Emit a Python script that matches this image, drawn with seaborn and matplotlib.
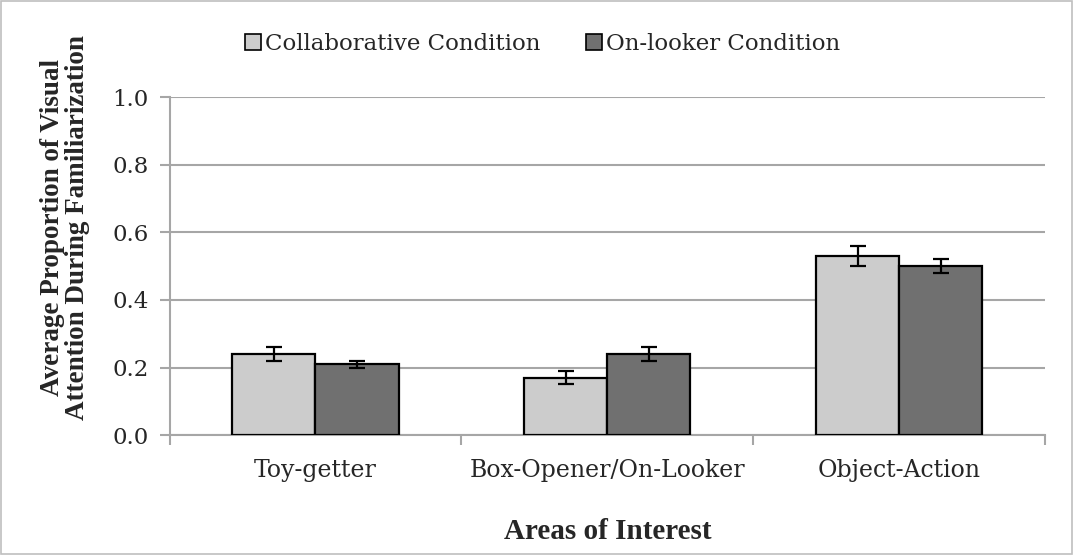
import seaborn as sns
import matplotlib.pyplot as plt
import pandas as pd
from matplotlib.patches import Rectangle

# data
areas = ["Toy-getter", "Box-Opener/On-Looker", "Object-Action"]
conditions = ["Collaborative Condition", "On-looker Condition"]
collab_vals = [0.24, 0.17, 0.53]
collab_err = [0.02, 0.02, 0.03]
onlooker_vals = [0.21, 0.24, 0.50]
onlooker_err = [0.01, 0.02, 0.02]
colors = ["#CCCCCC", "#707070"]

df = pd.DataFrame({
    "area": areas * 2,
    "condition": [conditions[0]] * 3 + [conditions[1]] * 3,
    "value": collab_vals + onlooker_vals,
    "err": collab_err + onlooker_err,
})

sns.set_style("white")
plt.rcParams["font.family"] = ["DejaVu Serif", "Liberation Serif"]
bold_font = ["Liberation Serif", "DejaVu Serif"]

fig = plt.figure(figsize=(10.73, 5.55), dpi=100)
ax = fig.add_axes([0.158, 0.216, 0.816, 0.609])

sns.barplot(data=df, x="area", y="value", hue="condition", palette=colors,
            order=areas, hue_order=conditions, width=0.57, errorbar=None,
            edgecolor="black", linewidth=1.6, saturation=1, ax=ax, zorder=3)

# error bars on top of each bar
for cont, cond in zip(ax.containers, conditions):
    sub = df[df["condition"] == cond].set_index("area").loc[areas]
    xs = [p.get_x() + p.get_width() / 2 for p in cont.patches]
    ax.errorbar(xs, sub["value"], yerr=sub["err"], fmt="none", ecolor="black",
                elinewidth=1.6, capsize=6, capthick=1.6, zorder=4)

ax.set_ylim(0, 1.0)
ax.set_xlim(-0.5, 2.5)
ax.set_yticks([0, 0.2, 0.4, 0.6, 0.8, 1.0])
ax.set_yticklabels(["0.0", "0.2", "0.4", "0.6", "0.8", "1.0"])
ax.yaxis.grid(True, color="#A6A6A6", linewidth=1.5, zorder=0)
ax.set_axisbelow(True)

for s in ["top", "right"]:
    ax.spines[s].set_visible(False)
for s in ["left", "bottom"]:
    ax.spines[s].set_color("#A6A6A6")
    ax.spines[s].set_linewidth(1.5)

ax.tick_params(axis="y", which="major", direction="out", length=7, width=1.5,
               color="#A6A6A6", labelsize=16.5, left=True, pad=8)
ax.tick_params(axis="x", which="major", length=0, labelsize=17, pad=17)
ax.set_xticks([-0.5, 0.5, 1.5, 2.5], minor=True)
ax.tick_params(axis="x", which="minor", direction="out", length=7, width=1.5,
               color="#A6A6A6", bottom=True)

ax.set_xlabel("Areas of Interest", fontsize=21, fontweight="bold",
              family=bold_font, labelpad=26)
ax.set_ylabel("Average Proportion of Visual\nAttention During Familiarization",
              fontsize=19.5, fontweight="bold", family=bold_font,
              linespacing=1.0)
ax.yaxis.set_label_coords(-0.091, 0.615)

handles = [Rectangle((0, 0), 1, 1, facecolor=c, edgecolor="black", linewidth=1.2)
           for c in colors]
ax.legend(handles, conditions, loc="center", bbox_to_anchor=(0.426, 1.157),
          ncol=2, frameon=False, fontsize=16.5, handlelength=0.7, handleheight=0.7,
          handletextpad=0.15, columnspacing=2.0)

# thin frame around the whole picture
fig.patches.append(Rectangle((0.001, 0.001), 0.998, 0.998, transform=fig.transFigure,
                             fill=False, edgecolor="#BFBFBF", linewidth=1.2))

fig.savefig("out.png", dpi=100)
